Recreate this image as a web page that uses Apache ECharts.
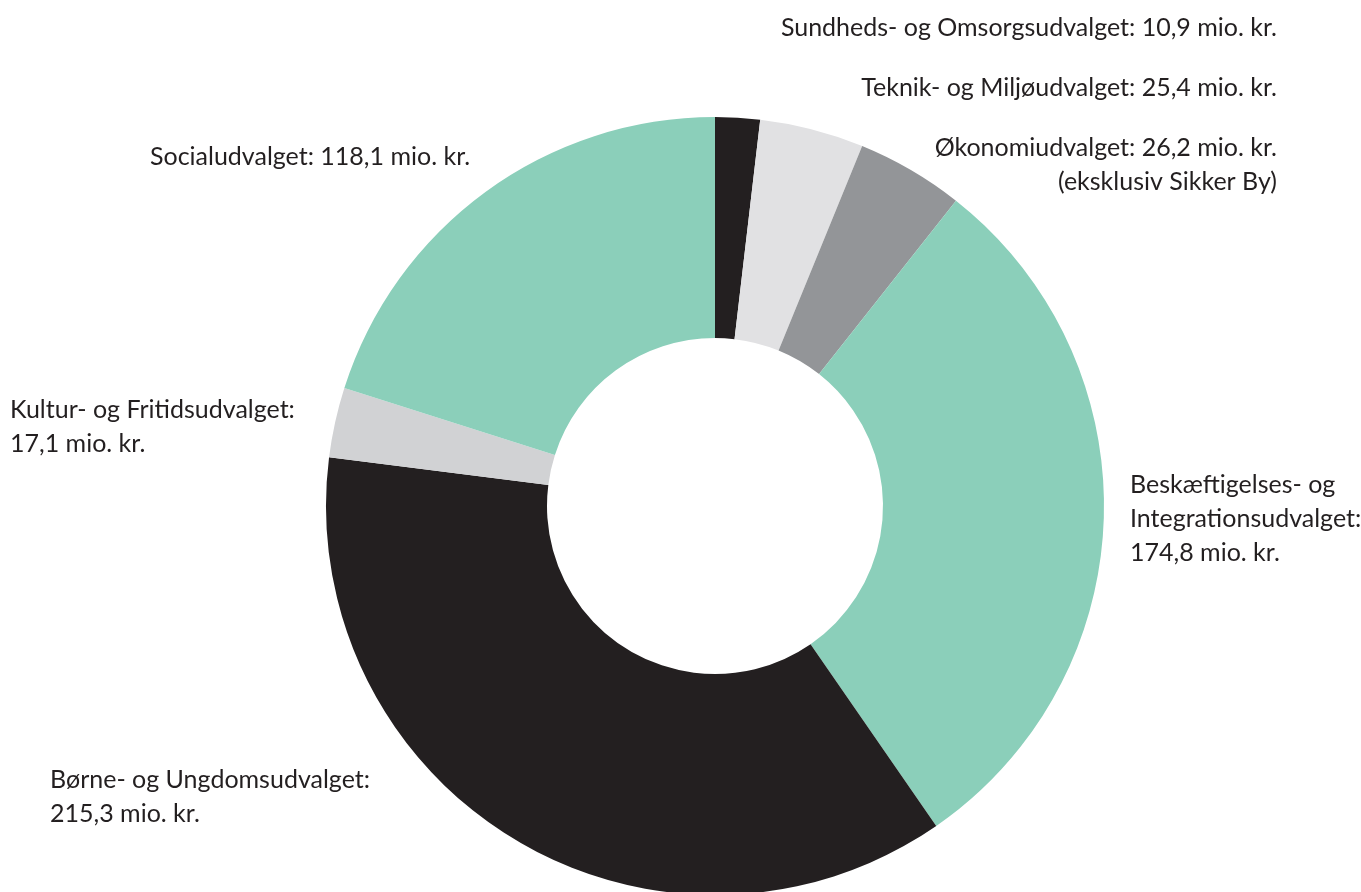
<!DOCTYPE html>
<html>
<head>
<meta charset="utf-8">
<script src="https://cdn.jsdelivr.net/npm/echarts@6/dist/echarts.min.js"></script>
<style>
  html, body { margin: 0; padding: 0; background: #fff; }
  #main { width: 1361px; height: 892px; }
</style>
</head>
<body>
<div id="main"></div>
<script>
// udvalg, clockwise from 12 o'clock
const categories = [
  'Sundheds- og Omsorgsudvalget',
  'Teknik- og Miljøudvalget',
  'Økonomiudvalget',
  'Beskæftigelses- og\nIntegrationsudvalget',
  'Børne- og Ungdomsudvalget',
  'Kultur- og Fritidsudvalget',
  'Socialudvalget'
];
const values = [10.9, 25.4, 26.2, 174.8, 215.3, 17.1, 118.1];
const notes = ['', '', '(eksklusiv Sikker By)', '', '', '', ''];
const breakAfterName = [false, false, false, true, true, true, false];

const colors = ['#231f20', '#e1e1e3', '#939598', '#8bcfba', '#231f20', '#d1d2d4', '#8bcfba'];

// where each label sits (x, y of first line top)
const labelPos = [
  { x: 1277, y: 11, align: 'right' },
  { x: 1277, y: 71, align: 'right' },
  { x: 1277, y: 131, align: 'right' },
  { x: 1130, y: 468, align: 'left' },
  { x: 50, y: 763, align: 'left' },
  { x: 10, y: 393, align: 'left' },
  { x: 150, y: 140, align: 'left' }
];

const fmt = v => v.toFixed(1).replace('.', ',');

const chart = echarts.init(document.getElementById('main'));
chart.setOption({
  animation: false,
  series: [{
    type: 'pie',
    center: [715, 506],
    radius: [168, 389],
    startAngle: 90,
    clockwise: true,
    silent: true,
    data: values.map((v, i) => ({
      name: categories[i],
      value: v,
      itemStyle: { color: colors[i] }
    })),
    label: {
      show: true,
      color: '#231f20',
      fontFamily: 'Lato',
      fontSize: 25,
      lineHeight: 34,
      overflow: 'none',
      formatter: p => {
        const i = p.dataIndex;
        let s = categories[i] + ':' + (breakAfterName[i] ? '\n' : ' ') + fmt(values[i]) + ' mio. kr.';
        if (notes[i]) s += '\n' + notes[i];
        return s;
      }
    },
    labelLine: { show: false },
    labelLayout: p => {
      const pos = labelPos[p.dataIndex];
      return { x: pos.x, y: pos.y, align: pos.align, verticalAlign: 'top', hideOverlap: false };
    }
  }]
});
</script>
</body>
</html>
